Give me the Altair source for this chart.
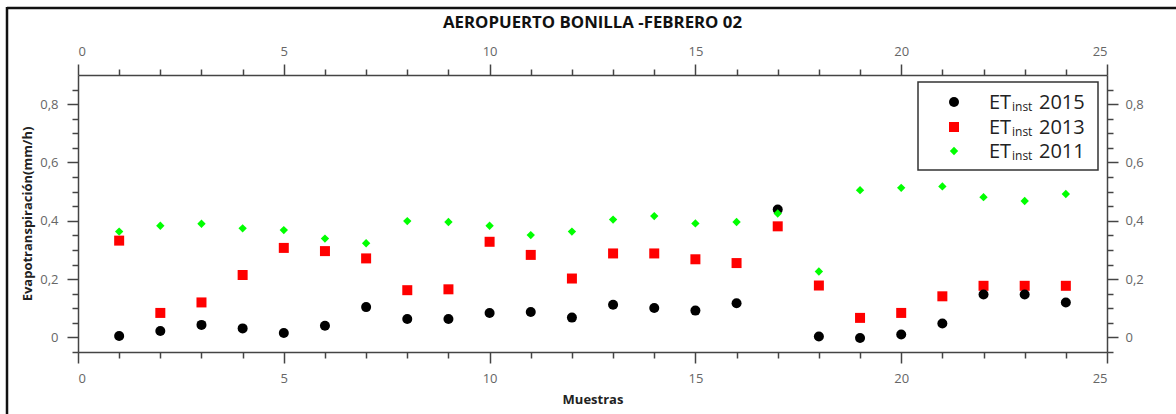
import altair as alt
import pandas as pd

# Sample index and hourly evapotranspiration per campaign year
muestras = list(range(1, 25))
et_2015 = [0.005, 0.022, 0.043, 0.031, 0.015, 0.040, 0.104, 0.063, 0.063, 0.084, 0.087, 0.068,
           0.112, 0.101, 0.092, 0.117, 0.439, 0.003, -0.002, 0.010, 0.048, 0.147, 0.147, 0.120]
et_2013 = [0.332, 0.084, 0.120, 0.214, 0.307, 0.296, 0.271, 0.162, 0.165, 0.328, 0.283, 0.202,
           0.288, 0.288, 0.268, 0.255, 0.381, 0.178, 0.067, 0.084, 0.141, 0.177, 0.177, 0.177]
et_2011 = [0.363, 0.383, 0.390, 0.374, 0.368, 0.339, 0.323, 0.399, 0.396, 0.383, 0.351, 0.363,
           0.404, 0.416, 0.391, 0.396, 0.425, 0.226, 0.505, 0.513, 0.518, 0.481, 0.468, 0.492]

years = ["2015", "2013", "2011"]
colors = ["#000000", "#ff0000", "#00ff00"]
shapes = ["circle", "square", "diamond"]
sizes = [100, 100, 70]

titulo = "AEROPUERTO BONILLA -FEBRERO 02"

x_major = [0, 5, 10, 15, 20, 25]
x_minor = [v for v in range(0, 26) if v % 5 != 0]
y_major = [0, 0.2, 0.4, 0.6, 0.8]
y_minor = [round(-0.05 + 0.05 * i, 2) for i in range(19)]
y_minor = [v for v in y_minor if round(v * 10, 6) % 2 != 0]

W, H = 1029, 277
PAD_L, PAD_T = 78, 75

series = {"2015": et_2015, "2013": et_2013, "2011": et_2011}
df = pd.concat(
    [pd.DataFrame({"muestra": muestras, "valor": vals, "serie": y}) for y, vals in series.items()],
    ignore_index=True,
)

xs = alt.Scale(domain=[0, 25], nice=False, zero=False)
ys = alt.Scale(domain=[-0.05, 0.9], nice=False, zero=False)

comma_fmt = "datum.value == 0 ? '0' : replace(format(datum.value, '.1f'), '.', ',')"


def axis_layer(x_axis, y_axis):
    return alt.Chart(df).mark_point(opacity=0).encode(
        x=alt.X("muestra:Q", scale=xs, axis=x_axis),
        y=alt.Y("valor:Q", scale=ys, axis=y_axis),
    )


main_axes = axis_layer(
    alt.Axis(orient="bottom", values=x_major, tickSize=11, format="d", labelPadding=9,
             title="Muestras", titlePadding=8),
    alt.Axis(orient="left", values=y_major, tickSize=11, labelExpr=comma_fmt, labelPadding=9,
             title="Evapotranspiración(mm/h)", titlePadding=5),
)
mirror_axes = axis_layer(
    alt.Axis(orient="top", values=x_major, tickSize=11, format="d", labelPadding=6, title=None),
    alt.Axis(orient="right", values=y_major, tickSize=11, labelExpr=comma_fmt, labelPadding=7,
             title=None),
)
minor_axes = axis_layer(
    alt.Axis(orient="bottom", values=x_minor, tickSize=6, labels=False, domain=False, title=None),
    alt.Axis(orient="left", values=y_minor, tickSize=6, labels=False, domain=False, title=None),
)
minor_mirror_axes = axis_layer(
    alt.Axis(orient="top", values=x_minor, tickSize=6, labels=False, domain=False, title=None),
    alt.Axis(orient="right", values=y_minor, tickSize=6, labels=False, domain=False, title=None),
)


def series_layer(year):
    i = years.index(year)
    return alt.Chart(df).transform_filter(alt.datum.serie == year).mark_point(
        filled=True, opacity=1, shape=shapes[i], size=sizes[i], color=colors[i]
    ).encode(
        x=alt.X("muestra:Q", scale=xs, axis=None),
        y=alt.Y("valor:Q", scale=ys, axis=None),
    )


one = alt.Data(values=[{"k": 0}])

# Outer frame (top and left edges of the figure)
frame_top = alt.Chart(one).mark_rule(color="#111111", strokeWidth=2.5).encode(
    x=alt.value(7 - PAD_L), x2=alt.value(1180 - PAD_L), y=alt.value(8 - PAD_T)
)
frame_left = alt.Chart(one).mark_rule(color="#111111", strokeWidth=2.5).encode(
    x=alt.value(7 - PAD_L), y=alt.value(7 - PAD_T), y2=alt.value(420 - PAD_T)
)

# Chart heading centred over the plot area
heading = alt.Chart(one).mark_text(
    text=titulo, font="Open Sans", fontSize=16.8, fontWeight="bold", color="#111111",
    align="center", baseline="middle",
).encode(x=alt.value(W / 2), y=alt.value(23 - PAD_T))

# Legend box with subscripted labels
lg_x0, lg_x1, lg_y0, lg_y1 = 918 - PAD_L, 1098 - PAD_L, 82 - PAD_T, 170 - PAD_T
legend_box = alt.Chart(one).mark_rect(fill="white", stroke="#333333", strokeWidth=1.5).encode(
    x=alt.value(lg_x0), x2=alt.value(lg_x1), y=alt.value(lg_y0), y2=alt.value(lg_y1)
)
legend_layers = [legend_box]
row_y = [102 - PAD_T, 127 - PAD_T, 151 - PAD_T]
for i, year in enumerate(years):
    ry = row_y[i]
    legend_layers.append(
        alt.Chart(one).mark_point(filled=True, opacity=1, shape=shapes[i], size=sizes[i],
                                  color=colors[i]).encode(x=alt.value(954 - PAD_L), y=alt.value(ry))
    )
    legend_layers.append(
        alt.Chart(one).mark_text(text="ET", font="Open Sans", fontSize=20, color="#222222",
                                 align="left", baseline="alphabetic").encode(
            x=alt.value(989 - PAD_L), y=alt.value(ry + 7))
    )
    legend_layers.append(
        alt.Chart(one).mark_text(text="inst", font="Open Sans", fontSize=12, color="#222222",
                                 align="left", baseline="alphabetic").encode(
            x=alt.value(1012 - PAD_L), y=alt.value(ry + 9))
    )
    legend_layers.append(
        alt.Chart(one).mark_text(text=year, font="Open Sans", fontSize=20, color="#222222",
                                 align="left", baseline="alphabetic").encode(
            x=alt.value(1039 - PAD_L), y=alt.value(ry + 7))
    )

chart = alt.layer(
    frame_top, frame_left, heading,
    main_axes, mirror_axes, minor_axes, minor_mirror_axes,
    series_layer("2013"), series_layer("2015"), series_layer("2011"),
    *legend_layers,
).resolve_axis(
    x="independent", y="independent"
).properties(
    width=W,
    height=H,
    autosize=alt.AutoSizeParams(type="none"),
    padding={"left": PAD_L, "top": PAD_T, "right": 1176 - PAD_L - W, "bottom": 414 - PAD_T - H},
    background="white",
).configure_view(
    stroke=None
).configure_axis(
    grid=False,
    domainColor="#444444",
    domainWidth=1.5,
    tickColor="#444444",
    tickWidth=1.5,
    labelColor="#666666",
    labelFont="Open Sans",
    labelFontSize=13,
    titleFont="Open Sans",
    titleFontSize=13,
    titleFontWeight="bold",
    titleColor="#222222",
)

chart.save("out.html", embed_options={"renderer": "svg", "actions": False})
